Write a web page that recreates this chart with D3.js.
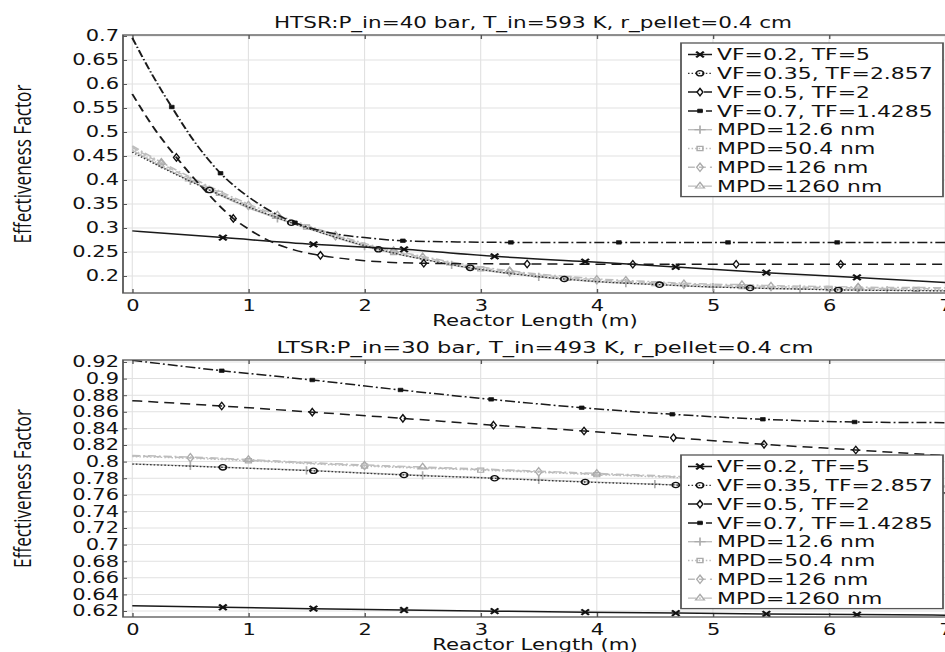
<!DOCTYPE html>
<html><head><meta charset="utf-8">
<script src="https://cdn.jsdelivr.net/npm/d3@7"></script>
<style>body{margin:0;background:#fff;} svg{display:block;}</style>
</head><body>
<svg id="chart" width="945" height="652"></svg>
<script>
// ---------------- categories / tick labels ----------------
const xTickValues = [0,1,2,3,4,5,6,7];
const htsrYTickValues = [0.2,0.25,0.3,0.35,0.4,0.45,0.5,0.55,0.6,0.65,0.7];
const ltsrYTickValues = [0.62,0.64,0.66,0.68,0.7,0.72,0.74,0.76,0.78,0.8,0.82,0.84,0.86,0.88,0.9,0.92];
const seriesNames = ["VF=0.2, TF=5","VF=0.35, TF=2.857","VF=0.5, TF=2","VF=0.7, TF=1.4285",
                     "MPD=12.6 nm","MPD=50.4 nm","MPD=126 nm","MPD=1260 nm"];
const panelTitles = ["HTSR:P_in=40 bar, T_in=593 K, r_pellet=0.4 cm","LTSR:P_in=30 bar, T_in=493 K, r_pellet=0.4 cm"];
const xAxisLabel = "Reactor Length (m)";
const yAxisLabel = "Effectiveness Factor";

// ---------------- HTSR series ----------------
const htsrVF02X = [0,0.78,1.56,2.34,3.12,3.9,4.68,5.46,6.24,7.05];
const htsrVF02Y = [0.294,0.280,0.266,0.2556,0.241,0.230,0.219,0.207,0.197,0.186];
const htsrVF02Marks = [1,2,3,4,5,6,7,8];
const htsrVF035X = [0,0.33,0.665,1.0,1.37,1.75,2.12,2.5,2.91,3.3,3.72,4.1,4.54,4.9,5.32,5.7,6.08,6.5,7.05];
const htsrVF035Y = [0.458,0.417,0.379,0.344,0.311,0.281,0.2556,0.235,0.217,0.204,0.1937,0.187,0.182,0.178,0.175,0.173,0.171,0.170,0.169];
const htsrVF035Marks = [2,4,6,8,10,12,14,16];
const htsrVF05X = [0,0.19,0.38,0.6,0.87,1.0,1.2,1.4,1.62,2.0,2.51,3.4,4.31,5.2,6.1,7.05];
const htsrVF05Y = [0.579,0.507,0.447,0.385,0.320,0.298,0.271,0.254,0.243,0.232,0.2265,0.225,0.2245,0.2245,0.2245,0.2245];
const htsrVF05Marks = [2,4,8,10,11,12,13,14];
const htsrVF07X = [0,0.17,0.34,0.55,0.76,1.0,1.2,1.4,1.7,2.0,2.33,2.8,3.26,4.19,5.13,6.07,7.05];
const htsrVF07Y = [0.696,0.620,0.552,0.475,0.414,0.365,0.334,0.311,0.290,0.280,0.2735,0.271,0.270,0.270,0.270,0.270,0.270];
const htsrVF07Marks = [2,4,7,10,12,13,14,15];
const htsrMpdX = [0,0.25,0.5,0.75,1,1.25,1.5,1.75,2,2.25,2.5,2.75,3,3.25,3.5,3.75,4,4.25,4.5,4.75,5,5.25,5.5,5.75,6,6.25,6.5,6.75,7.05];
const htsrMpd12Y = [.462,.428,.398,.369,.342,.320,.300,.280,.262,.247,.235,.223,.213,.205,.198,.193,.188,.185,.182,.179,.177,.176,.174,.173,.172,.171,.170,.170,.169];
const htsrMpd50Y = [.465,.431,.400,.372,.345,.322,.302,.282,.264,.249,.237,.225,.215,.207,.200,.195,.190,.187,.184,.181,.179,.178,.176,.175,.174,.173,.172,.172,.171];
const htsrMpd126Y = [.468,.434,.403,.374,.347,.324,.304,.284,.266,.251,.239,.227,.217,.209,.202,.197,.192,.189,.186,.183,.181,.180,.178,.177,.176,.175,.174,.174,.173];
const htsrMpd1260Y = [.471,.437,.406,.377,.350,.327,.306,.286,.268,.253,.241,.229,.219,.211,.204,.199,.194,.191,.188,.185,.183,.182,.180,.179,.178,.177,.176,.176,.175];
const htsrMpd12Marks = [2,5,8,11,14,17,20,23,26];
const htsrMpd50Marks = [3,6,9,12,15,18,21,24,27];
const htsrMpd126Marks = [1,4,7,10,13,16,19,22,25];
const htsrMpd1260Marks = [1,5,9,13,17,21,25];

// ---------------- LTSR series ----------------
const ltsrVF02X = [0,0.78,1.56,2.34,3.12,3.9,4.68,5.46,6.24,7.05];
const ltsrVF02Y = [0.6264,0.6245,0.6228,0.6212,0.6198,0.6186,0.6175,0.6165,0.6157,0.6150];
const ltsrVF02Marks = [1,2,3,4,5,6,7,8];
const ltsrVF035X = [0,0.78,1.56,2.34,3.12,3.9,4.68,5.46,6.24,7.05];
const ltsrVF035Y = [0.797,0.7931,0.7889,0.7839,0.7799,0.7754,0.7718,0.768,0.765,0.762];
const ltsrVF035Marks = [1,2,3,4,5,6,7,8];
const ltsrVF05X = [0,0.77,1.55,2.33,3.11,3.89,4.66,5.44,6.23,7.05];
const ltsrVF05Y = [0.8734,0.867,0.8596,0.8521,0.8439,0.8369,0.8288,0.8208,0.814,0.8067];
const ltsrVF05Marks = [1,2,3,4,5,6,7,8];
const ltsrVF07X = [0,0.77,1.55,2.31,3.09,3.87,4.65,5.43,6.22,7.05];
const ltsrVF07Y = [0.922,0.9095,0.8983,0.8863,0.875,0.8649,0.857,0.851,0.8477,0.8469];
const ltsrVF07Marks = [1,2,3,4,5,6,7,8];
const ltsrMpdX = [0,0.5,1,1.5,2,2.5,3,3.5,4,4.5,5,5.5,6,6.5,7.05];
const ltsrMpd12Y = [.7973,.7948,.7921,.7895,.7863,.7833,.7808,.7780,.7753,.7729,.7705,.7681,.7661,.7643,.7623];
const ltsrMpd50Y = [.8060,.8040,.8010,.7975,.7945,.7920,.7897,.7870,.7843,.7817,.7790,.7765,.7740,.7715,.7690];
const ltsrMpd126Y = [.8067,.8047,.8017,.7982,.7952,.7927,.7904,.7877,.7850,.7824,.7797,.7772,.7747,.7722,.7697];
const ltsrMpd1260Y = [.8075,.8055,.8025,.7990,.7960,.7935,.7912,.7885,.7858,.7832,.7805,.7780,.7755,.7730,.7705];
const ltsrMpd12Marks = [1,3,5,7,9,11,13];
const ltsrMpd50Marks = [2,4,6,8,10,12];
const ltsrMpd126Marks = [1,4,7,10,13];
const ltsrMpd1260Marks = [2,5,8,11];

// ---------------- styles ----------------
const S = 1.37; // horizontal stretch of the original figure
const seriesStyles = [
  {stroke:'#1a1a1a', w:1.5, dash:null, sym:d3.symbolTimes, size:22, fill:'none', ms:'#111', mw:1.8},
  {stroke:'#333333', w:1.3, dash:'1.1,1.5', sym:d3.symbolCircle, size:22, fill:'none', ms:'#111', mw:1.3},
  {stroke:'#1a1a1a', w:1.5, dash:'7.3,4.4', sym:d3.symbolDiamond, size:16, fill:'none', ms:'#111', mw:1.1},
  {stroke:'#1a1a1a', w:1.5, dash:'7.3,2.2,1.4,2.2', sym:d3.symbolSquare, size:12, fill:'#111', ms:'#111', mw:0.6},
  {stroke:'#bdbdbd', w:1.4, dash:null, sym:d3.symbolPlus, size:24, fill:'none', ms:'#ababab', mw:1.2},
  {stroke:'#bdbdbd', w:1.4, dash:'1.1,1.5', sym:d3.symbolSquare, size:18, fill:'none', ms:'#ababab', mw:1.1},
  {stroke:'#bdbdbd', w:1.4, dash:'5,3', sym:d3.symbolDiamond, size:20, fill:'none', ms:'#ababab', mw:1.1},
  {stroke:'#bdbdbd', w:1.4, dash:'6,2,1.4,2', sym:d3.symbolTriangle, size:18, fill:'none', ms:'#ababab', mw:1.1}
];

const htsrSeries = [
  [htsrVF02X, htsrVF02Y, htsrVF02Marks],
  [htsrVF035X, htsrVF035Y, htsrVF035Marks],
  [htsrVF05X, htsrVF05Y, htsrVF05Marks],
  [htsrVF07X, htsrVF07Y, htsrVF07Marks],
  [htsrMpdX, htsrMpd12Y, htsrMpd12Marks],
  [htsrMpdX, htsrMpd50Y, htsrMpd50Marks],
  [htsrMpdX, htsrMpd126Y, htsrMpd126Marks],
  [htsrMpdX, htsrMpd1260Y, htsrMpd1260Marks]
];
const ltsrSeries = [
  [ltsrVF02X, ltsrVF02Y, ltsrVF02Marks],
  [ltsrVF035X, ltsrVF035Y, ltsrVF035Marks],
  [ltsrVF05X, ltsrVF05Y, ltsrVF05Marks],
  [ltsrVF07X, ltsrVF07Y, ltsrVF07Marks],
  [ltsrMpdX, ltsrMpd12Y, ltsrMpd12Marks],
  [ltsrMpdX, ltsrMpd50Y, ltsrMpd50Marks],
  [ltsrMpdX, ltsrMpd126Y, ltsrMpd126Marks],
  [ltsrMpdX, ltsrMpd1260Y, ltsrMpd1260Marks]
];

const svg = d3.select('#chart');
const root = svg.append('g').attr('transform', `scale(${S},1)`);
const FONT = 'DejaVu Sans';

function drawPanel(p, idx) {
  const x = d3.scaleLinear().domain([-0.08, 7.05]).range([123 / S, 951 / S]);
  const y = d3.scaleLinear().domain(p.yDomain).range([p.yBot, p.yTop]);
  const g = root.append('g');
  const x0 = x(-0.08), x1 = x(7.05);

  // grid
  g.append('g').selectAll('line').data(xTickValues).join('line')
    .attr('x1', d => x(d)).attr('x2', d => x(d)).attr('y1', p.yTop).attr('y2', p.yBot)
    .attr('stroke', '#e1e1e1').attr('stroke-width', 0.8);
  g.append('g').selectAll('line').data(p.yTicks).join('line')
    .attr('x1', x0).attr('x2', x1).attr('y1', d => y(d)).attr('y2', d => y(d))
    .attr('stroke', '#e1e1e1').attr('stroke-width', 1);

  // axes
  const styleAxis = fs => a => {
    a.select('.domain').remove();
    a.selectAll('line').attr('stroke', '#555').attr('stroke-width', 1);
    a.selectAll('text').attr('font-family', FONT).attr('font-size', fs).attr('fill', '#111');
  };
  g.append('g').attr('transform', `translate(${x0},0)`)
    .call(d3.axisLeft(y).tickValues(p.yTicks).tickSizeInner(-4 / S).tickSizeOuter(0).tickPadding(4 / S)
      .tickFormat(d => String(+d.toFixed(2))))
    .call(styleAxis(15.3));
  g.append('g').attr('transform', `translate(0,${p.yBot})`)
    .call(d3.axisBottom(x).tickValues(xTickValues).tickSizeInner(-4).tickSizeOuter(0).tickPadding(7)
      .tickFormat(d3.format('d')))
    .call(styleAxis(15.3));
  g.append('g').attr('transform', `translate(0,${p.yTop})`)
    .call(d3.axisTop(x).tickValues(xTickValues).tickSizeInner(-4).tickSizeOuter(0).tickFormat(() => ''))
    .call(styleAxis(15.3));

  // clip
  const cid = 'clip' + idx;
  svg.append('defs').append('clipPath').attr('id', cid)
    .append('rect').attr('x', x0).attr('y', p.yTop).attr('width', x1 - x0).attr('height', p.yBot - p.yTop);
  const plot = g.append('g').attr('clip-path', `url(#${cid})`);

  const line = d3.line().x(d => x(d[0])).y(d => y(d[1])).curve(d3.curveMonotoneX);
  const order = [4, 5, 6, 7, 1, 2, 3, 0];
  order.forEach(i => {
    const [xs, ys, marks] = p.series[i];
    const st = seriesStyles[i];
    const pts = xs.map((v, k) => [v, ys[k]]);
    plot.append('path').datum(pts).attr('d', line)
      .attr('fill', 'none').attr('stroke', st.stroke).attr('stroke-width', st.w)
      .attr('stroke-dasharray', st.dash);
    plot.append('g').selectAll('path').data(marks.map(k => pts[k])).join('path')
      .attr('transform', d => `translate(${x(d[0])},${y(d[1])})`)
      .attr('d', d3.symbol(st.sym, st.size))
      .attr('fill', st.fill).attr('stroke', st.ms).attr('stroke-width', st.mw);
  });

  // frame
  g.append('rect').attr('x', x0).attr('y', p.yTop).attr('width', x1 - x0).attr('height', p.yBot - p.yTop)
    .attr('fill', 'none').attr('stroke', '#555').attr('stroke-width', 1.3);

  // title and labels
  g.append('text').attr('x', p.titleX / S).attr('y', p.titleY).attr('text-anchor', 'middle')
    .attr('font-family', FONT).attr('font-size', p.titleSize).attr('fill', '#111').text(p.title);
  g.append('text').attr('x', 535 / S).attr('y', p.yBot + 33).attr('text-anchor', 'middle')
    .attr('font-family', FONT).attr('font-size', 15.5).attr('fill', '#111').text(xAxisLabel);
  g.append('text').attr('transform', `translate(${30.5 / S},${(p.yTop + p.yBot) / 2}) rotate(-90)`)
    .attr('text-anchor', 'middle').attr('font-family', 'Open Sans').attr('font-size', 17.2)
    .attr('fill', '#111').text(yAxisLabel);

  // legend
  const lg = g.append('g');
  const rowH = 18.8;
  lg.append('rect').attr('x', 681 / S).attr('y', p.legTop).attr('width', (943 - 681) / S)
    .attr('height', 11.5 + 7 * rowH + 10.5)
    .attr('fill', '#fff').attr('stroke', '#555').attr('stroke-width', 1.3);
  seriesNames.forEach((name, i) => {
    const st = seriesStyles[i];
    const ry = p.legTop + 11.5 + i * rowH;
    lg.append('line').attr('x1', 688 / S).attr('x2', 712 / S).attr('y1', ry).attr('y2', ry)
      .attr('stroke', st.stroke).attr('stroke-width', st.w).attr('stroke-dasharray', st.dash);
    lg.append('path').attr('transform', `translate(${700 / S},${ry})`)
      .attr('d', d3.symbol(st.sym, st.size)).attr('fill', st.fill).attr('stroke', st.ms).attr('stroke-width', st.mw);
    lg.append('text').attr('x', 717 / S).attr('y', ry).attr('dy', '0.36em')
      .attr('font-family', FONT).attr('font-size', 16).attr('fill', '#111').text(name);
  });
}

drawPanel({yTop: 35, yBot: 293, yDomain: [0.1646, 0.702], yTicks: htsrYTickValues,
  series: htsrSeries, title: panelTitles[0], titleX: 533, titleY: 28, titleSize: 15.7, legTop: 43}, 0);
drawPanel({yTop: 360, yBot: 617, yDomain: [0.6128, 0.9224], yTicks: ltsrYTickValues,
  series: ltsrSeries, title: panelTitles[1], titleX: 545, titleY: 353, titleSize: 16.5, legTop: 455}, 1);
</script>
</body></html>
